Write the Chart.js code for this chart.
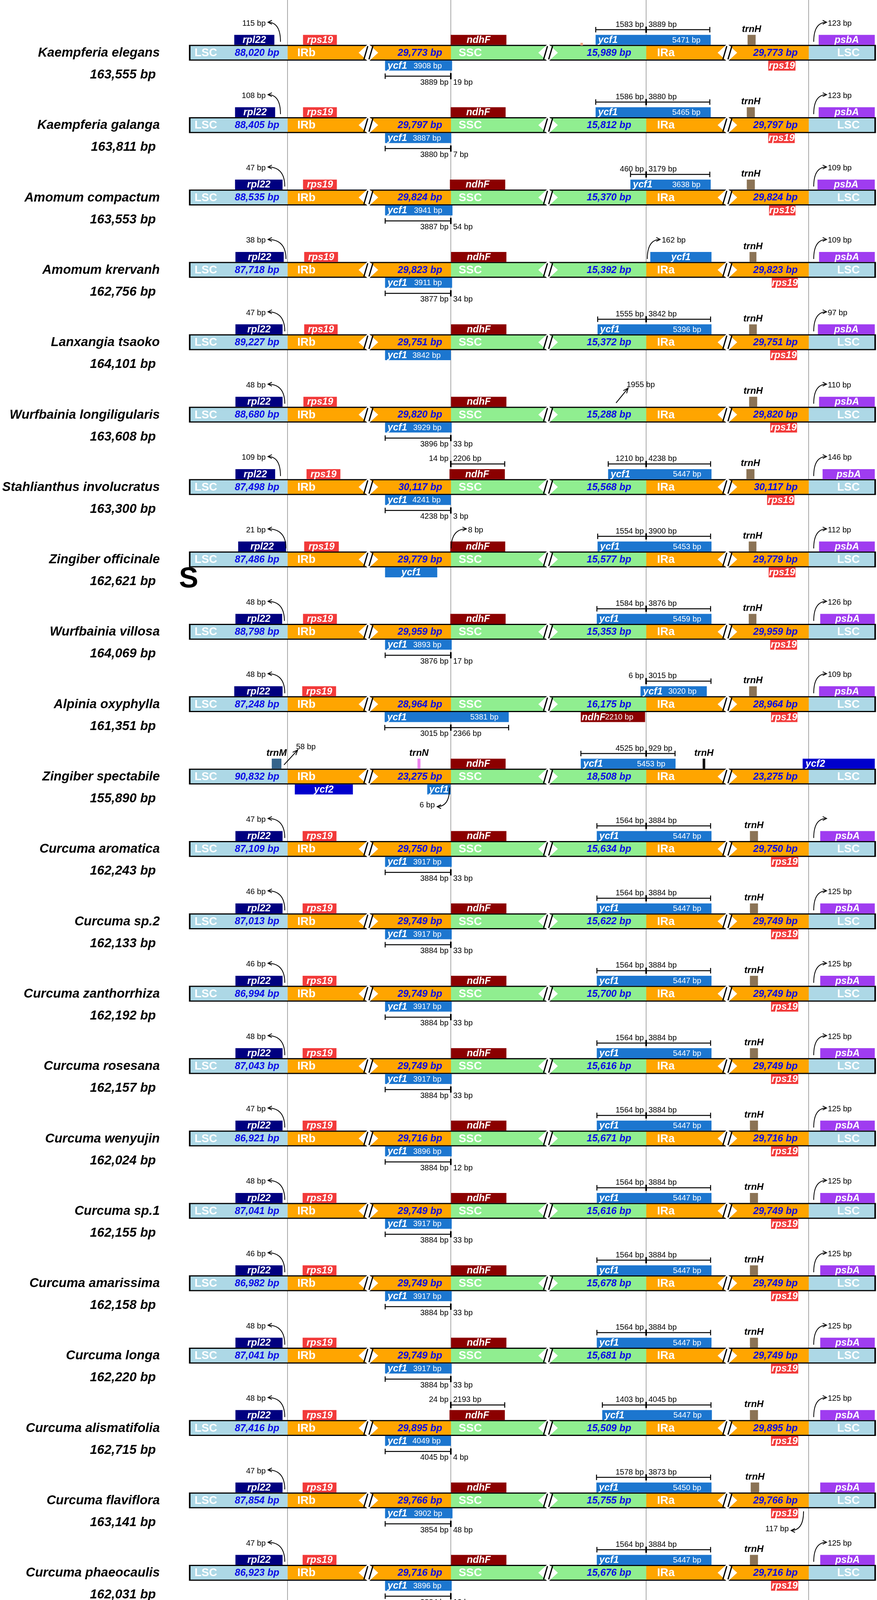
<!DOCTYPE html>
<html lang="en">
<head>
  <meta charset="UTF-8" />
  <title>IR boundaries of Zingiberaceae plastomes</title>
  <script src="https://cdn.jsdelivr.net/npm/chart.js"></script>
  <style>
    html, body { margin: 0; padding: 0; background: #ffffff; overflow: hidden; }
    #wrap { width: 2245px; height: 4685px; position: relative; }
    #irChart { display: block; }
  </style>
</head>
<body>
<div id="wrap"><canvas id="irChart"></canvas></div>
<script>
// ---- data ----
const species = ['Kaempferia elegans', 'Kaempferia galanga', 'Amomum compactum', 'Amomum krervanh',
  'Lanxangia tsaoko', 'Wurfbainia longiligularis', 'Stahlianthus involucratus', 'Zingiber officinale',
  'Wurfbainia villosa', 'Alpinia oxyphylla', 'Zingiber spectabile', 'Curcuma aromatica', 'Curcuma sp.2',
  'Curcuma zanthorrhiza', 'Curcuma rosesana', 'Curcuma wenyujin', 'Curcuma sp.1', 'Curcuma amarissima',
  'Curcuma longa', 'Curcuma alismatifolia', 'Curcuma flaviflora', 'Curcuma phaeocaulis',
  'Curcuma yunnanensis', 'Curcuma elata', 'Curcuma sichuanensis'];
const genomeSize = [163555, 163811, 163553, 162756, 164101, 163608, 163300, 162621, 164069, 161351, 155890,
  162243, 162133, 162192, 162157, 162024, 162155, 162158, 162220, 162715, 163141, 162031, 162133, 162171, 162133];
const lscLength = [88020, 88405, 88535, 87718, 89227, 88680, 87498, 87486, 88798, 87248, 90832,
  87109, 87013, 86994, 87043, 86921, 87041, 86982, 87041, 87416, 87854, 86923, 87013, 87037, 87013];
const irLength = [29773, 29797, 29824, 29823, 29751, 29820, 30117, 29779, 29959, 28964, 23275,
  29750, 29749, 29749, 29749, 29716, 29749, 29749, 29749, 29895, 29766, 29716, 29749, 29750, 29749];
const sscLength = [15989, 15812, 15370, 15392, 15372, 15288, 15568, 15577, 15353, 16175, 18508,
  15634, 15622, 15700, 15616, 15671, 15616, 15678, 15681, 15509, 15755, 15676, 15622, 15634, 15622];

// distances (bp) shown with the little arrows
const rpl22Gap = [115, 108, 47, 38, 47, 48, 109, 21, 48, 48, null, 47, 46, 46, 48, 47, 48, 46, 48, 48, 47, 47, 46, 47, 46];
const psbAGap = [123, 123, 109, 109, 97, 110, 146, 112, 126, 109, null, '', 125, 125, 125, 125, 125, 125, 125, 125, null, 125, 125, 125, 125];

// ycf1 across the IRb/SSC junction
const ycf1BottomLen = [3908, 3887, 3941, 3911, 3842, 3929, 4241, null, 3893, 5381, null,
  3917, 3917, 3917, 3917, 3896, 3917, 3917, 3917, 4049, 3902, 3896, 3917, 3917, 3917];
const jsbSplit = [[3889, 19], [3880, 7], [3887, 54], [3877, 34], null, [3896, 33], [4238, 3], null, [3876, 17], [3015, 2366], null,
  [3884, 33], [3884, 33], [3884, 33], [3884, 33], [3884, 12], [3884, 33], [3884, 33], [3884, 33], [4045, 4], [3854, 48],
  [3884, 12], [3884, 33], [3884, 33], [3884, 33]];

// ycf1 across the SSC/IRa junction
const ycf1TopLen = [5471, 5465, 3638, null, 5396, null, 5447, 5453, 5459, 3020, 5453,
  5447, 5447, 5447, 5447, 5447, 5447, 5447, 5447, 5447, 5450, 5447, 5447, 5447, 5447];
const jsaSplit = [[1583, 3889], [1586, 3880], [460, 3179], null, [1555, 3842], null, [1210, 4238], [1554, 3900], [1584, 3876], [6, 3015], [4525, 929],
  [1564, 3884], [1564, 3884], [1564, 3884], [1564, 3884], [1564, 3884], [1564, 3884], [1564, 3884], [1564, 3884], [1403, 4045], [1578, 3873],
  [1564, 3884], [1564, 3884], [1564, 3884], [1564, 3884]];

// ndhF overlapping the IRb/SSC junction
const ndhFSplit = [null, null, null, null, null, null, [14, 2206], null, null, null, null, null, null,
  null, null, null, null, null, null, [24, 2193], null, null, null, null, null];

// ---- gene boxes, in schematic map units (the diagram is not drawn to scale) ----
const rpl22Top = [[600, 702], [602, 704], [602, 723], [603, 726], [603, 723], [603, 723], [603, 704], [610, 732], [603, 722], [600, 723], null,
  [603, 723], [603, 723], [603, 723], [603, 723], [603, 723], [603, 723], [603, 723], [603, 723], [603, 723], [603, 723],
  [603, 723], [603, 723], [603, 723], [603, 723]];
const rps19Top = [[776, 862], [776, 862], [776, 862], [779, 865], [779, 864], [777, 862], [785, 871], [779, 867], [776, 862], [774, 860], null,
  [775, 861], [775, 861], [775, 861], [775, 861], [775, 861], [775, 861], [775, 861], [775, 861], [775, 861], [775, 861],
  [775, 861], [775, 861], [775, 861], [775, 861]];
const ndhFTop = [[1154, 1296], [1154, 1294], [1152, 1293], [1155, 1296], [1155, 1296], [1155, 1296], [1151, 1292], [1153, 1293], [1153, 1294], null, [1154, 1294],
  [1155, 1296], [1155, 1296], [1155, 1296], [1155, 1296], [1155, 1296], [1155, 1296], [1155, 1296], [1155, 1296], [1151, 1292], [1155, 1296],
  [1155, 1296], [1155, 1296], [1155, 1296], [1155, 1296]];
const ycf1Top = [[1525, 1819], [1525, 1819], [1614, 1819], [1665, 1821], [1530, 1821], null, [1557, 1821], [1530, 1821], [1528, 1821], [1640, 1809], [1487, 1729],
  [1528, 1821], [1528, 1821], [1528, 1821], [1528, 1821], [1528, 1821], [1528, 1821], [1528, 1821], [1528, 1821], [1542, 1822], [1527, 1821],
  [1528, 1821], [1528, 1821], [1528, 1821], [1528, 1821]];
const jsaSpan = [[1525, 1817], [1525, 1817], [1614, 1817], null, [1530, 1819], null, [1557, 1819], [1530, 1819], [1528, 1819], [1653, 1820], [1487, 1728],
  [1528, 1819], [1528, 1819], [1528, 1819], [1528, 1819], [1528, 1819], [1528, 1819], [1528, 1819], [1528, 1819], [1542, 1820], [1527, 1819],
  [1528, 1819], [1528, 1819], [1528, 1819], [1528, 1819]];
const trnHTop = [[1914, 1934], [1912, 1932], [1912, 1932], [1919, 1936], [1918, 1937], [1918, 1938], [1911, 1931], [1917, 1936], [1917, 1936], [1918, 1937], [1799, 1805],
  [1920, 1940], [1920, 1940], [1920, 1940], [1920, 1940], [1920, 1940], [1920, 1940], [1920, 1940], [1920, 1940], [1920, 1940], [1922, 1943],
  [1920, 1940], [1920, 1940], [1920, 1940], [1920, 1940]];
const psbATop = [[2096, 2239], [2096, 2239], [2093, 2239], [2097, 2239], [2094, 2239], [2097, 2239], [2106, 2239], [2097, 2239], [2100, 2239], [2097, 2239], null,
  [2100, 2239], [2100, 2239], [2100, 2239], [2100, 2239], [2100, 2239], [2100, 2239], [2100, 2239], [2100, 2239], [2100, 2239], [2100, 2239],
  [2100, 2239], [2100, 2239], [2100, 2239], [2100, 2239]];
const ycf1Bottom = [[986, 1157], [986, 1155], [986, 1158], [986, 1157], [986, 1154], [986, 1156], [986, 1154], [986, 1119], [986, 1156], [985, 1302], [1094, 1153],
  [986, 1156], [986, 1156], [986, 1156], [986, 1156], [986, 1156], [986, 1156], [986, 1156], [986, 1156], [986, 1154], [986, 1158],
  [986, 1156], [986, 1156], [986, 1156], [986, 1156]];
const rps19Bottom = [[1967, 2036], [1967, 2034], [1969, 2036], [1976, 2042], [1972, 2040], [1972, 2040], [1964, 2033], [1968, 2036], [1972, 2040], [1974, 2041], null,
  [1974, 2043], [1974, 2043], [1974, 2043], [1974, 2043], [1974, 2043], [1974, 2043], [1974, 2043], [1974, 2043], [1974, 2043], [1974, 2043],
  [1974, 2043], [1974, 2043], [1974, 2043], [1974, 2043]];

// genes that show up in one genome only
const extraGenes = [
  { row: 9, gene: 'ndhF', side: 'below', span: [1487, 1651], len: 2210 },
  { row: 10, gene: 'trnM', side: 'above', span: [696, 720] },
  { row: 10, gene: 'trnN', side: 'above', span: [1069, 1076] },
  { row: 10, gene: 'ycf2', side: 'below', span: [755, 903] },
  { row: 10, gene: 'ycf2', side: 'above', span: [2055, 2239], align: 'left' },
  { row: 0, gene: 'mark', side: 'mark', span: [1486, 1492] }
];

// one-off pointer notes
const pointerNotes = [
  { row: 3, text: '162 bp', kind: 'curveUp', from: 1657, to: 1690 },
  { row: 5, text: '1955 bp', kind: 'straight', from: 1577, to: 1608 },
  { row: 7, text: '8 bp', kind: 'curveUp', from: 1155, to: 1194 },
  { row: 10, text: '58 bp', kind: 'straight', from: 727, to: 762 },
  { row: 10, text: '6 bp', kind: 'curveDown', from: 1151, to: 1119 },
  { row: 20, text: '117 bp', kind: 'curveDown', from: 2057, to: 2025 }
];

// ---- schematic layout ----
const ROW_PX = 185.3;
const FIRST_ROW_PX = 135;
const H = 4685;
const junctions = [736, 1154, 1654, 2070];           // JLB, JSB, JSA, JLA
const [JLB, JSB, JSA, JLA] = junctions;
const barEnds = [484, 2242];
const regionEdges = [488, JLB, JSB, JSA, JLA, 2238];
const regionNames = ['LSC', 'IRb', 'SSC', 'IRa', 'LSC'];
const regionColors = ['#add8e6', '#ffa500', '#90ee90', '#ffa500', '#add8e6'];
const breakAt = [943, 1403, 1862];

const geneColors = {
  rpl22: '#000080', rps19: '#f23a3a', ndhF: '#8b0000', ycf1: '#1c76cf', trnH: '#8b7355',
  psbA: '#9f3cf0', ycf2: '#0000cd', trnM: '#36648b', trnN: '#ee82ee', mark: '#f0a080'
};
const sideOffset = { above: -33, below: 33, mark: -22 };
const sideThick = { above: 25, below: 25, mark: 6 };

const FONT = '"Liberation Sans", Arial, Helvetica, sans-serif';
const fSpecies = `italic bold 33px ${FONT}`;
const fRegion = `bold 29px ${FONT}`;
const fRegionLen = `italic bold 25px ${FONT}`;
const fGene = `italic bold 25px ${FONT}`;
const fTrn = `italic bold 24px ${FONT}`;
const fSmall = `20px ${FONT}`;
const SIZE_BLUE = '#0a0ae6';

const rows = species.map((_, i) => i);
const fmt = n => n.toLocaleString('en-US');

// ---- datasets ----
const datasets = [];
const common = { grouped: false, borderWidth: 0 };

datasets.push({ ...common, label: 'outline', order: 10, barThickness: 40, backgroundColor: '#000',
  data: rows.map(i => ({ x: barEnds, y: i })) });

regionNames.forEach((name, k) => {
  datasets.push({ ...common, label: name, order: 9, barThickness: 34, backgroundColor: regionColors[k],
    data: rows.map(i => ({ x: [regionEdges[k], regionEdges[k + 1]], y: i })) });
});

const tracks = [
  { gene: 'rpl22', side: 'above', spans: rpl22Top },
  { gene: 'rps19', side: 'above', spans: rps19Top },
  { gene: 'ndhF', side: 'above', spans: ndhFTop },
  { gene: 'ycf1', side: 'above', spans: ycf1Top, lens: ycf1TopLen },
  { gene: 'trnH', side: 'above', spans: trnHTop },
  { gene: 'psbA', side: 'above', spans: psbATop },
  { gene: 'ycf1', side: 'below', spans: ycf1Bottom, lens: ycf1BottomLen },
  { gene: 'rps19', side: 'below', spans: rps19Bottom }
];

tracks.forEach(t => {
  const data = [];
  t.spans.forEach((s, i) => {
    if (s) data.push({ x: s, y: i + sideOffset[t.side] / ROW_PX, row: i, len: t.lens ? t.lens[i] : null });
  });
  datasets.push({ ...common, label: t.gene + ' ' + t.side, gene: t.gene, side: t.side, order: 1,
    barThickness: sideThick[t.side],
    backgroundColor: data.map(d => (t.gene === 'trnH' && d.row === 10) ? '#111111' : geneColors[t.gene]),
    data });
});

extraGenes.forEach(g => {
  datasets.push({ ...common, label: g.gene + ' extra', gene: g.gene, side: g.side, order: 1,
    barThickness: sideThick[g.side], backgroundColor: geneColors[g.gene],
    data: [{ x: g.span, y: g.row + sideOffset[g.side] / ROW_PX, row: g.row, len: g.len || null, align: g.align }] });
});

// ---- drawing helpers ----
function txt(ctx, s, x, y, font, color, align) {
  ctx.font = font;
  ctx.fillStyle = color;
  ctx.textAlign = align;
  ctx.textBaseline = 'middle';
  ctx.fillText(s, x, y);
}

function bracket(ctx, x0, xm, x1, y, labelY, left, right) {
  ctx.strokeStyle = '#000';
  ctx.lineWidth = 2.5;
  ctx.beginPath();
  ctx.moveTo(x0, y); ctx.lineTo(x1, y);
  ctx.moveTo(x0, y - 7); ctx.lineTo(x0, y + 7);
  ctx.moveTo(x1, y - 7); ctx.lineTo(x1, y + 7);
  ctx.stroke();
  ctx.lineWidth = 4;
  ctx.beginPath();
  ctx.moveTo(xm, y - 8); ctx.lineTo(xm, y + 8);
  ctx.stroke();
  txt(ctx, left + ' bp', xm - 6, labelY, fSmall, '#000', 'right');
  txt(ctx, right + ' bp', xm + 6, labelY, fSmall, '#000', 'left');
}

function curvedArrow(ctx, x0, y0, x1, y1) {
  ctx.strokeStyle = '#000';
  ctx.lineWidth = 2;
  ctx.beginPath();
  ctx.moveTo(x0, y0);
  ctx.quadraticCurveTo(x0, y1, x1, y1);
  ctx.stroke();
  const d = Math.sign(x1 - x0);
  ctx.beginPath();
  ctx.moveTo(x1 - d * 10, y1 - 5); ctx.lineTo(x1, y1); ctx.lineTo(x1 - d * 10, y1 + 5);
  ctx.stroke();
}

function straightArrow(ctx, x0, y0, x1, y1) {
  ctx.strokeStyle = '#000';
  ctx.lineWidth = 2;
  ctx.beginPath();
  ctx.moveTo(x0, y0); ctx.lineTo(x1, y1);
  ctx.stroke();
  const a = Math.atan2(y1 - y0, x1 - x0);
  ctx.beginPath();
  ctx.moveTo(x1 - 14 * Math.cos(a - 0.4), y1 - 14 * Math.sin(a - 0.4));
  ctx.lineTo(x1, y1);
  ctx.lineTo(x1 - 14 * Math.cos(a + 0.4), y1 - 14 * Math.sin(a + 0.4));
  ctx.stroke();
}

const irPlugin = {
  id: 'irAnnotations',
  afterDatasetsDraw(chart) {
    // the "//" breaks that shorten each region
    const ctx = chart.ctx;
    const xs = chart.scales.x, ys = chart.scales.y;
    ctx.save();
    rows.forEach(i => {
      const c = ys.getPixelForValue(i);
      breakAt.forEach(b => {
        const cx = xs.getPixelForValue(b);
        ctx.fillStyle = '#fff';
        ctx.beginPath();
        ctx.moveTo(cx - 25, c); ctx.lineTo(cx, c - 23); ctx.lineTo(cx + 25, c); ctx.lineTo(cx, c + 23);
        ctx.closePath();
        ctx.fill();
        ctx.strokeStyle = '#000';
        ctx.lineWidth = 3.2;
        ctx.beginPath();
        ctx.moveTo(cx - 11.5, c + 17); ctx.lineTo(cx - 1.5, c - 17);
        ctx.moveTo(cx + 1.5, c + 17); ctx.lineTo(cx + 11.5, c - 17);
        ctx.stroke();
      });
    });
    ctx.restore();
  },
  afterDraw(chart) {
    const ctx = chart.ctx;
    const xs = chart.scales.x, ys = chart.scales.y;
    const X = v => xs.getPixelForValue(v);
    ctx.save();

    // labels on the gene boxes
    chart.data.datasets.forEach((ds, di) => {
      if (!ds.gene || ds.gene === 'mark') return;
      const meta = chart.getDatasetMeta(di);
      meta.data.forEach((el, j) => {
        const p = el.getProps(['x', 'base', 'y'], true);
        const d = ds.data[j];
        const l = Math.min(p.x, p.base), r = Math.max(p.x, p.base);
        const c = ys.getPixelForValue(d.row);
        if (ds.gene.startsWith('trn')) {
          txt(ctx, ds.gene, (l + r) / 2, c - 60, fTrn, '#000', 'center');
        } else if (ds.gene === 'ycf1' && d.len) {
          txt(ctx, 'ycf1', l + 6, p.y + 1, fGene, '#fff', 'left');
          txt(ctx, d.len + ' bp', r - 26, p.y + 1, fSmall, '#fff', 'right');
        } else if (ds.gene === 'ndhF' && d.len) {
          txt(ctx, 'ndhF', l + 2, p.y + 1, fGene, '#fff', 'left');
          txt(ctx, d.len + ' bp', l + 62, p.y + 1, fSmall, '#fff', 'left');
        } else if (d.align === 'left') {
          txt(ctx, ds.gene, l + 7, p.y + 1, fGene, '#fff', 'left');
        } else {
          txt(ctx, ds.gene, (l + r) / 2, p.y + 1, fGene, '#fff', 'center');
        }
      });
    });

    rows.forEach(i => {
      const c = ys.getPixelForValue(i);

      // species name and genome size
      txt(ctx, species[i], 409, c + 1, fSpecies, '#000', 'right');
      txt(ctx, fmt(genomeSize[i]) + ' bp', 399, c + 57, fSpecies, '#000', 'right');

      // region names and lengths inside the bar
      txt(ctx, 'LSC', X(regionEdges[0]) + 10, c + 1, fRegion, '#fff', 'left');
      txt(ctx, fmt(lscLength[i]) + ' bp', X(JLB) - 21, c + 1, fRegionLen, SIZE_BLUE, 'right');
      txt(ctx, 'IRb', X(JLB) + 25, c + 1, fRegion, '#fff', 'left');
      txt(ctx, fmt(irLength[i]) + ' bp', X(JSB) - 22, c + 1, fRegionLen, SIZE_BLUE, 'right');
      txt(ctx, 'SSC', X(JSB) + 20, c + 1, fRegion, '#fff', 'left');
      txt(ctx, fmt(sscLength[i]) + ' bp', X(JSA) - 38, c + 1, fRegionLen, SIZE_BLUE, 'right');
      txt(ctx, 'IRa', X(JSA) + 28, c + 1, fRegion, '#fff', 'left');
      txt(ctx, fmt(irLength[i]) + ' bp', X(JLA) - 28, c + 1, fRegionLen, SIZE_BLUE, 'right');
      txt(ctx, 'LSC', X(JLA) + 73, c + 1, fRegion, '#fff', 'left');

      // rpl22 distance to JLB
      if (rpl22Gap[i] !== null) {
        const sx = Math.min(Math.max(X(rpl22Top[i][1]) + 6, X(JLB) - 18), X(JLB) - 4);
        curvedArrow(ctx, sx, c - 28, X(JLB) - 50, c - 78);
        txt(ctx, rpl22Gap[i] + ' bp', X(JLB) - 56, c - 75, fSmall, '#000', 'right');
      }
      // psbA distance to JLA
      if (psbAGap[i] !== null) {
        curvedArrow(ctx, X(JLA) + 13, c - 28, X(JLA) + 46, c - 78);
        if (psbAGap[i] !== '') txt(ctx, psbAGap[i] + ' bp', X(JLA) + 49, c - 75, fSmall, '#000', 'left');
      }

      // ycf1 split at JSB (below the bar)
      if (jsbSplit[i]) {
        const s = ycf1Bottom[i];
        const end = s[1] > JSB + 20 ? s[1] : JSB;
        bracket(ctx, X(s[0]), X(JSB), X(end), c + 60, c + 76, jsbSplit[i][0], jsbSplit[i][1]);
      }
      // ycf1 split at JSA (above the bar)
      if (jsaSplit[i]) {
        const s = jsaSpan[i];
        bracket(ctx, X(s[0]), X(JSA), X(s[1]), c - 59, c - 72, jsaSplit[i][0], jsaSplit[i][1]);
      }
      // ndhF split at JSB
      if (ndhFSplit[i]) {
        bracket(ctx, X(JSB), X(JSB), X(ndhFTop[i][1]), c - 59, c - 72, ndhFSplit[i][0], ndhFSplit[i][1]);
      }
    });

    pointerNotes.forEach(n => {
      const c = ys.getPixelForValue(n.row);
      if (n.kind === 'curveUp') {
        curvedArrow(ctx, X(n.from), c - 28, X(n.to), c - 78);
        txt(ctx, n.text, X(n.to) + 4, c - 75, fSmall, '#000', 'left');
      } else if (n.kind === 'curveDown') {
        curvedArrow(ctx, X(n.from), c + 28, X(n.to), c + 77);
        txt(ctx, n.text, X(n.to) - 6, c + 73, fSmall, '#000', 'right');
      } else {
        straightArrow(ctx, X(n.from), c - 30, X(n.to), c - 68);
        txt(ctx, n.text, X(n.to) - 4, c - 76, fSmall, '#000', 'left');
      }
    });

    // stray letter sitting next to Zingiber officinale
    txt(ctx, 'S', 483, ys.getPixelForValue(7) + 51, `bold 74px ${FONT}`, '#000', 'center');

    ctx.restore();
  }
};

new Chart(document.getElementById('irChart'), {
  type: 'bar',
  data: { datasets },
  options: {
    indexAxis: 'y',
    responsive: true,
    maintainAspectRatio: false,
    devicePixelRatio: 1,
    animation: false,
    layout: { padding: 0 },
    plugins: { legend: { display: false }, tooltip: { enabled: false } },
    scales: {
      x: {
        type: 'linear',
        min: 0,
        max: 2245,
        offset: false,
        z: 1,
        afterBuildTicks: axis => { axis.ticks = junctions.map(v => ({ value: v })); },
        grid: { color: '#a8a8a8', lineWidth: 2, drawTicks: false },
        border: { display: false },
        ticks: { display: false }
      },
      y: {
        type: 'linear',
        reverse: true,
        offset: false,
        min: -FIRST_ROW_PX / ROW_PX,
        max: (H - FIRST_ROW_PX) / ROW_PX,
        display: false
      }
    }
  },
  plugins: [irPlugin]
});
</script>
</body>
</html>
